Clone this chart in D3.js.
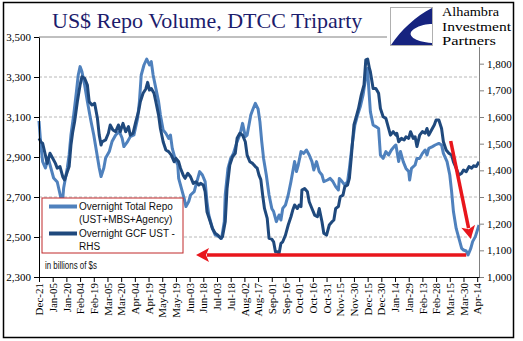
<!DOCTYPE html>
<html>
<head>
<meta charset="utf-8">
<script src="https://cdn.jsdelivr.net/npm/d3@7"></script>
<style>
  body { margin: 0; background: #fff; }
  svg { display: block; }
</style>
</head>
<body>
<div id="graf"></div>
<script>
// Overnight Total Repo (UST+MBS+Agency), left axis, billions of $
var totalRepo = [
  ["2011-12-21",3080],["2011-12-23",2960],["2011-12-25",2877],["2011-12-28",2845],["2011-12-31",2895],
  ["2012-01-03",2845],["2012-01-06",2795],["2012-01-10",2775],["2012-01-14",2695],["2012-01-15",2640],
  ["2012-01-17",2745],["2012-01-21",2845],["2012-01-23",2910],["2012-01-25",3010],["2012-01-28",3110],
  ["2012-01-31",3227],["2012-02-02",3310],["2012-02-04",3352],["2012-02-06",3327],["2012-02-09",3260],
  ["2012-02-12",3177],["2012-02-16",3077],["2012-02-19",3010],["2012-02-22",2927],["2012-02-25",2845],
  ["2012-02-27",2802],["2012-03-01",2845],["2012-03-03",2895],["2012-03-07",2927],["2012-03-10",2977],
  ["2012-03-14",3010],["2012-03-18",3027],["2012-03-21",2995],["2012-03-23",2952],["2012-03-27",2977],
  ["2012-03-30",3002],["2012-04-03",3010],["2012-04-07",3093],["2012-04-09",3177],["2012-04-11",3310],
  ["2012-04-14",3360],["2012-04-17",3390],["2012-04-20",3360],["2012-04-22",3377],["2012-04-24",3310],
  ["2012-04-27",3243],["2012-04-30",3177],["2012-05-02",3110],["2012-05-05",3035],["2012-05-08",3018],
  ["2012-05-11",2993],["2012-05-13",3010],["2012-05-15",2943],["2012-05-18",2893],["2012-05-21",2860],
  ["2012-05-22",2793],["2012-05-25",2743],["2012-05-28",2693],["2012-05-30",2652],["2012-06-02",2677],
  ["2012-06-04",2710],["2012-06-08",2727],["2012-06-11",2777],["2012-06-14",2827],["2012-06-17",2810],
  ["2012-06-20",2777],["2012-06-22",2677],["2012-06-24",2610],["2012-06-28",2543],["2012-07-01",2510],
  ["2012-07-05",2502],["2012-07-08",2493],["2012-07-11",2577],["2012-07-12",2710],["2012-07-15",2843],
  ["2012-07-18",2893],["2012-07-21",2918],["2012-07-25",2977],["2012-07-28",3010],["2012-07-31",3068],
  ["2012-08-03",3002],["2012-08-05",3010],["2012-08-09",3110],["2012-08-11",3135],["2012-08-14",3168],
  ["2012-08-17",3140],["2012-08-19",3077],["2012-08-21",2977],["2012-08-23",2893],["2012-08-26",2810],
  ["2012-08-29",2710],["2012-09-01",2643],["2012-09-03",2627],["2012-09-06",2577],["2012-09-09",2610],
  ["2012-09-11",2585],["2012-09-13",2643],["2012-09-16",2660],["2012-09-19",2710],["2012-09-22",2777],
  ["2012-09-24",2827],["2012-09-26",2877],["2012-09-28",2827],["2012-09-30",2860],["2012-10-03",2927],
  ["2012-10-06",2918],["2012-10-09",2935],["2012-10-12",2910],["2012-10-15",2877],["2012-10-17",2835],
  ["2012-10-20",2877],["2012-10-23",2827],["2012-10-26",2810],["2012-10-28",2777],["2012-11-01",2785],
  ["2012-11-04",2793],["2012-11-07",2777],["2012-11-10",2752],["2012-11-13",2735],["2012-11-14",2793],
  ["2012-11-17",2777],["2012-11-20",2760],["2012-11-23",2777],["2012-11-25",2843],["2012-11-28",2960],
  ["2012-12-01",3060],["2012-12-04",3110],["2012-12-07",3152],["2012-12-10",3210],["2012-12-13",3300],
  ["2012-12-15",3343],["2012-12-16",3260],["2012-12-18",3127],["2012-12-21",3060],["2012-12-24",3052],
  ["2012-12-27",3043],["2012-12-29",2910],["2013-01-01",2893],["2013-01-04",2927],["2013-01-07",2910],
  ["2013-01-10",2935],["2013-01-13",2952],["2013-01-15",2960],["2013-01-18",2877],["2013-01-20",2927],
  ["2013-01-23",2877],["2013-01-26",2843],["2013-01-29",2827],["2013-01-30",2785],["2013-02-01",2843],
  ["2013-02-05",2860],["2013-02-07",2893],["2013-02-10",2893],["2013-02-13",2918],["2013-02-16",2935],
  ["2013-02-18",2910],["2013-02-20",2943],["2013-02-24",2952],["2013-02-27",2960],["2013-03-03",2968],
  ["2013-03-06",2960],["2013-03-08",2918],["2013-03-12",2877],["2013-03-15",2810],["2013-03-17",2727],
  ["2013-03-19",2627],["2013-03-22",2543],["2013-03-25",2493],["2013-03-28",2443],["2013-03-30",2435],
  ["2013-04-02",2430],["2013-04-04",2410],["2013-04-07",2443],["2013-04-09",2477],["2013-04-12",2502],
  ["2013-04-16",2560]
]

// Overnight GCF UST, right axis (RHS)
var gcfUst = [
  ["2011-12-21",1520],["2011-12-23",1507],["2011-12-25",1501],["2011-12-28",1457],["2011-12-30",1426],
  ["2012-01-02",1464],["2012-01-05",1445],["2012-01-08",1426],["2012-01-10",1408],["2012-01-13",1414],
  ["2012-01-16",1376],["2012-01-18",1364],["2012-01-21",1395],["2012-01-23",1414],["2012-01-25",1495],
  ["2012-01-27",1545],["2012-01-29",1582],["2012-02-01",1657],["2012-02-04",1720],["2012-02-06",1751],
  ["2012-02-09",1745],["2012-02-12",1720],["2012-02-14",1657],["2012-02-17",1645],["2012-02-20",1651],
  ["2012-02-23",1595],["2012-02-25",1532],["2012-02-27",1495],["2012-02-28",1507],["2012-03-03",1514],
  ["2012-03-06",1539],["2012-03-08",1570],["2012-03-11",1551],["2012-03-14",1545],["2012-03-17",1570],
  ["2012-03-19",1545],["2012-03-22",1576],["2012-03-25",1545],["2012-03-28",1564],["2012-03-30",1532],
  ["2012-04-02",1539],["2012-04-05",1582],["2012-04-08",1620],["2012-04-10",1657],["2012-04-13",1689],
  ["2012-04-16",1705],["2012-04-18",1730],["2012-04-20",1701],["2012-04-22",1707],["2012-04-25",1689],
  ["2012-04-27",1657],["2012-04-30",1607],["2012-05-02",1557],["2012-05-05",1507],["2012-05-08",1476],
  ["2012-05-11",1470],["2012-05-14",1457],["2012-05-17",1432],["2012-05-19",1445],["2012-05-22",1432],
  ["2012-05-24",1408],["2012-05-27",1382],["2012-05-29",1370],["2012-06-01",1389],["2012-06-04",1376],
  ["2012-06-07",1351],["2012-06-10",1357],["2012-06-13",1345],["2012-06-15",1351],["2012-06-18",1345],
  ["2012-06-20",1320],["2012-06-22",1245],["2012-06-25",1214],["2012-06-28",1182],["2012-07-01",1164],
  ["2012-07-04",1157],["2012-07-07",1145],["2012-07-09",1151],["2012-07-12",1207],["2012-07-14",1332],
  ["2012-07-17",1420],["2012-07-20",1451],["2012-07-23",1464],["2012-07-25",1520],["2012-07-28",1539],
  ["2012-07-31",1532],["2012-08-03",1507],["2012-08-05",1457],["2012-08-08",1432],["2012-08-11",1426],
  ["2012-08-14",1414],["2012-08-16",1408],["2012-08-18",1382],["2012-08-20",1365],["2012-08-22",1307],
  ["2012-08-24",1257],["2012-08-27",1220],["2012-08-29",1145],["2012-09-01",1142],["2012-09-03",1132],
  ["2012-09-05",1095],["2012-09-07",1095],["2012-09-09",1089],["2012-09-11",1126],["2012-09-13",1132],
  ["2012-09-16",1157],["2012-09-19",1195],["2012-09-22",1226],["2012-09-24",1251],["2012-09-26",1270],
  ["2012-09-29",1257],["2012-10-01",1270],["2012-10-03",1264],["2012-10-04",1326],["2012-10-07",1332],
  ["2012-10-10",1320],["2012-10-12",1282],["2012-10-15",1257],["2012-10-18",1232],["2012-10-21",1226],
  ["2012-10-23",1257],["2012-10-26",1207],["2012-10-28",1164],["2012-10-31",1157],["2012-11-03",1195],
  ["2012-11-06",1207],["2012-11-08",1214],["2012-11-10",1257],["2012-11-13",1264],["2012-11-15",1301],
  ["2012-11-18",1307],["2012-11-20",1339],["2012-11-23",1345],["2012-11-25",1370],["2012-11-27",1445],
  ["2012-11-30",1570],["2012-12-03",1607],["2012-12-05",1632],["2012-12-08",1682],["2012-12-11",1720],
  ["2012-12-13",1814],["2012-12-15",1817],["2012-12-17",1782],["2012-12-18",1770],["2012-12-21",1707],
  ["2012-12-24",1707],["2012-12-27",1689],["2012-12-29",1632],["2013-01-01",1601],["2013-01-04",1595],
  ["2013-01-07",1557],["2013-01-09",1532],["2013-01-12",1545],["2013-01-15",1532],["2013-01-16",1539],
  ["2013-01-18",1507],["2013-01-21",1520],["2013-01-24",1514],["2013-01-26",1526],["2013-01-29",1520],
  ["2013-01-31",1545],["2013-02-03",1520],["2013-02-05",1526],["2013-02-07",1489],["2013-02-10",1532],
  ["2013-02-13",1545],["2013-02-16",1539],["2013-02-18",1557],["2013-02-20",1532],["2013-02-23",1551],
  ["2013-02-26",1570],["2013-02-28",1589],["2013-03-03",1589],["2013-03-06",1557],["2013-03-08",1507],
  ["2013-03-11",1476],["2013-03-14",1464],["2013-03-17",1457],["2013-03-19",1432],["2013-03-22",1408],
  ["2013-03-25",1382],["2013-03-28",1389],["2013-03-30",1401],["2013-04-02",1395],["2013-04-05",1414],
  ["2013-04-08",1408],["2013-04-10",1417],["2013-04-13",1414],["2013-04-16",1432]
]

var leftTicks = [2300, 2500, 2700, 2900, 3100, 3300, 3500]
var rightTicks = [1000, 1100, 1200, 1300, 1400, 1500, 1600, 1700, 1800]
var xTickLabels = ["Dec-21","Jan-05","Jan-20","Feb-04","Feb-19","Mar-05","Mar-20","Apr-04","Apr-19",
  "May-04","May-19","Jun-03","Jun-18","Jul-03","Jul-18","Aug-02","Aug-17","Sep-01","Sep-16","Oct-01",
  "Oct-16","Oct-31","Nov-15","Nov-30","Dec-15","Dec-30","Jan-14","Jan-29","Feb-13","Feb-28","Mar-15",
  "Mar-30","Apr-14"]
var legendNames = [["Overnight Total Repo", "(UST+MBS+Agency)"], ["Overnight GCF UST -", "RHS"]]
var logoLines = ["Alhambra", "Investment", "Partners"]

var parse = d3.timeParse("%Y-%m-%d")
var start = parse("2011-12-21")
var tickDates = xTickLabels.map((l, i) => d3.timeDay.offset(start, 15 * i))

var lightBlue = "#4f81bd", darkBlue = "#1f497d", red = "#e8161c"
var serif = "'Liberation Serif', 'Times New Roman', serif"
var sans = "'Liberation Sans', Arial, sans-serif"

var x = d3.scaleTime()
          .domain([start, parse("2013-04-16")])
          .range([39, 479])
var yL = d3.scaleLinear().domain([2300, 3500]).range([277, 37])
var yR = d3.scaleLinear().domain([1000, 1900]).range([277, 37])

var svg = d3.select('#graf')
            .append('svg')
            .attr('width', 523)
            .attr('height', 341)

// outer frame
svg.append("rect")
  .attr("x", 3.5).attr("y", 2.5).attr("width", 510).attr("height", 335)
  .attr("fill", "#fff").attr("stroke", "#000").attr("stroke-width", 1.5)

// gridlines
svg.append("g")
  .selectAll("line")
  .data(leftTicks.slice(1, -1))
  .join("line")
  .attr("x1", 39).attr("x2", 479)
  .attr("y1", d => yL(d)).attr("y2", d => yL(d))
  .attr("stroke", "#a6a6a6").attr("stroke-width", 0.8)
  .attr("stroke-dasharray", "3,2")

// plot top border
svg.append("line")
  .attr("x1", 39).attr("x2", 479).attr("y1", 37).attr("y2", 37)
  .attr("stroke", "#808080").attr("stroke-width", 1)

// lines
var lineL = d3.line().x(d => x(parse(d[0]))).y(d => yL(d[1]))
var lineR = d3.line().x(d => x(parse(d[0]))).y(d => yR(d[1]))

svg.append("path")
  .datum(totalRepo)
  .attr("d", lineL)
  .attr("fill", "none").attr("stroke", lightBlue).attr("stroke-width", 3)
  .attr("stroke-linejoin", "round")

svg.append("path")
  .datum(gcfUst)
  .attr("d", lineR)
  .attr("fill", "none").attr("stroke", darkBlue).attr("stroke-width", 3)
  .attr("stroke-linejoin", "round")

// axes
var gl = svg.append("g")
  .attr("transform", "translate(39,0)")
  .call(d3.axisLeft(yL).tickValues(leftTicks).tickFormat(d3.format(",")).tickSize(5).tickPadding(3).tickSizeOuter(0))
gl.select(".domain").attr("stroke", "#000")
gl.selectAll("text").attr("font-family", serif).attr("font-size", 11).attr("fill", "#000")

var gr = svg.append("g")
  .attr("transform", "translate(479,0)")
  .call(d3.axisRight(yR).tickValues(rightTicks).tickFormat(d3.format(",")).tickSize(5).tickPadding(3).tickSizeOuter(0))
gr.select(".domain").attr("stroke", "#808080")
gr.selectAll(".tick line").attr("stroke", "#808080")
gr.selectAll("text").attr("font-family", serif).attr("font-size", 11).attr("fill", "#000")

var gb = svg.append("g")
  .attr("transform", "translate(0,277)")
  .call(d3.axisBottom(x).tickValues(tickDates).tickFormat((d, i) => xTickLabels[i]).tickSize(5).tickSizeOuter(0))
gb.select(".domain").attr("stroke", "#000")
gb.selectAll("text")
  .attr("font-family", serif).attr("font-size", 11).attr("fill", "#000")
  .attr("transform", "rotate(-90)")
  .attr("text-anchor", "end")
  .attr("x", -6).attr("y", 0).attr("dy", "0.33em")

// legend
var lg = svg.append("g")
lg.append("rect")
  .attr("x", 42).attr("y", 198).attr("width", 141).attr("height", 55)
  .attr("fill", "#fff").attr("stroke", "#c0292b").attr("stroke-width", 1)
;[lightBlue, darkBlue].forEach(function(c, i) {
  var cy = 206.5 + i * 27
  lg.append("line")
    .attr("x1", 49).attr("x2", 77).attr("y1", cy).attr("y2", cy)
    .attr("stroke", c).attr("stroke-width", 4)
  legendNames[i].forEach(function(t, j) {
    lg.append("text")
      .attr("x", 79).attr("y", cy + 3.5 + j * 13)
      .attr("font-family", sans).attr("font-size", 10).attr("fill", "#111")
      .text(t)
  })
})

svg.append("text")
  .attr("x", 45).attr("y", 268.5)
  .attr("font-family", sans).attr("font-size", 10).attr("fill", "#111")
  .attr("textLength", 52).attr("lengthAdjust", "spacingAndGlyphs")
  .text("in billions of $s")

// red annotations
var flat = [["2013-04-02", 2410], ["2012-06-10", 2410]]   // points left, to the mid-2012 low
var drop = [["2013-03-16", 2980], ["2013-04-07", 2490]]

function arrow(pts) {
  var x1 = x(parse(pts[0][0])), y1 = yL(pts[0][1])
  var x2 = x(parse(pts[1][0])), y2 = yL(pts[1][1])
  var ang = Math.atan2(y2 - y1, x2 - x1)
  var len = 13, hw = 7
  var bx = x2 - len * Math.cos(ang), by = y2 - len * Math.sin(ang)
  svg.append("line")
    .attr("x1", x1).attr("y1", y1).attr("x2", bx + 2 * Math.cos(ang)).attr("y2", by + 2 * Math.sin(ang))
    .attr("stroke", red).attr("stroke-width", 3.5)
  svg.append("path")
    .attr("d", "M" + x2 + "," + y2 +
      "L" + (bx + hw * Math.sin(ang)) + "," + (by - hw * Math.cos(ang)) +
      "L" + (bx + 3 * Math.cos(ang)) + "," + (by + 3 * Math.sin(ang)) +
      "L" + (bx - hw * Math.sin(ang)) + "," + (by + hw * Math.cos(ang)) + "Z")
    .attr("fill", red)
}
arrow(flat)
arrow(drop)

// title
svg.append("text")
  .attr("x", 52).attr("y", 28)
  .attr("font-family", serif).attr("font-size", 22).attr("fill", "#1c1c6c")
  .text("US$ Repo Volume, DTCC Triparty")

// logo
var logo = svg.append("g")
logo.append("rect")
  .attr("x", 387).attr("y", 4).attr("width", 125).attr("height", 43)
  .attr("fill", "#fff")
logo.append("rect")
  .attr("x", 390.5).attr("y", 7.5).attr("width", 42).attr("height", 38)
  .attr("fill", "#fff").attr("stroke", "#b0b0b0").attr("stroke-width", 1)
logo.append("path")
  .attr("d", "M432,8 C416,16 401,30 391,45 L432,45 L432,43 C415,42 405,35 414,29 C420,25 427,24 432,24 Z")
  .attr("fill", "#16237f")
var logoWidths = [57, 69, 54]
logoLines.forEach(function(t, i) {
  logo.append("text")
    .attr("x", 442).attr("y", 16 + i * 14.6)
    .attr("font-family", serif).attr("font-size", 12.5).attr("fill", "#000")
    .attr("textLength", logoWidths[i]).attr("lengthAdjust", "spacingAndGlyphs")
    .text(t)
})
</script>
</body>
</html>
